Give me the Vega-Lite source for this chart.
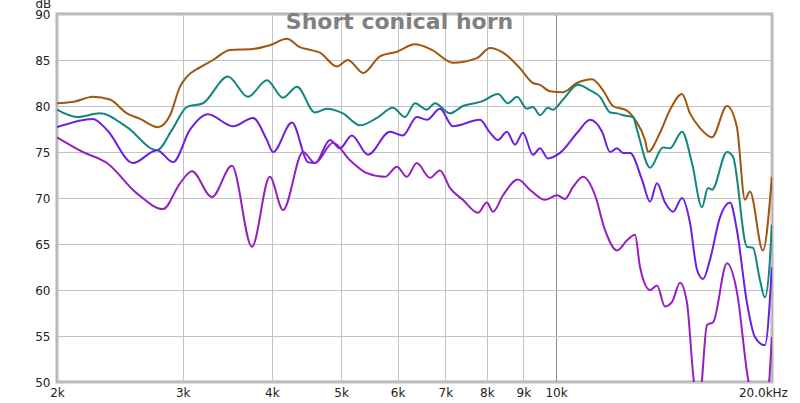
{
  "$schema": "https://vega.github.io/schema/vega-lite/v6.json",
  "autosize": "none",
  "width": 715,
  "height": 368,
  "padding": {"left": 57, "top": 14, "right": 28, "bottom": 21},
  "background": "white",
  "config": {
    "view": {"stroke": "#b4b4b4", "strokeWidth": 3},
    "font": "DejaVu Sans"
  },
  "title": {"text": "Short conical horn", "fontSize": 22, "font": "DejaVu Sans", "fontWeight": "bold", "color": "#808080", "anchor": "middle", "frame": "group", "offset": -37, "dx": -15},
  "data": {"values": [
    {"s":"brown","f":2000,"db":80.3},{"s":"brown","f":2120,"db":80.5},{"s":"brown","f":2246,"db":81.0},{"s":"brown","f":2372,"db":80.7},{"s":"brown","f":2506,"db":79.2},{"s":"brown","f":2614,"db":78.6},{"s":"brown","f":2770,"db":77.7},{"s":"brown","f":2880,"db":79.0},{"s":"brown","f":2974,"db":82.1},{"s":"brown","f":3042,"db":83.2},{"s":"brown","f":3172,"db":84.2},{"s":"brown","f":3308,"db":85.0},{"s":"brown","f":3494,"db":86.1},{"s":"brown","f":3763,"db":86.2},{"s":"brown","f":3973,"db":86.6},{"s":"brown","f":4198,"db":87.3},{"s":"brown","f":4376,"db":86.4},{"s":"brown","f":4523,"db":86.1},{"s":"brown","f":4670,"db":85.8},{"s":"brown","f":4932,"db":84.3},{"s":"brown","f":5111,"db":85.0},{"s":"brown","f":5368,"db":83.6},{"s":"brown","f":5667,"db":85.4},{"s":"brown","f":5987,"db":85.9},{"s":"brown","f":6346,"db":86.7},{"s":"brown","f":6700,"db":86.1},{"s":"brown","f":7170,"db":84.7},{"s":"brown","f":7746,"db":85.2},{"s":"brown","f":8082,"db":86.3},{"s":"brown","f":8429,"db":85.8},{"s":"brown","f":8903,"db":84.1},{"s":"brown","f":9283,"db":82.5},{"s":"brown","f":9496,"db":82.3},{"s":"brown","f":9807,"db":81.6},{"s":"brown","f":10229,"db":81.5},{"s":"brown","f":10702,"db":82.5},{"s":"brown","f":11232,"db":82.9},{"s":"brown","f":11638,"db":81.7},{"s":"brown","f":12020,"db":80.0},{"s":"brown","f":12575,"db":79.5},{"s":"brown","f":12903,"db":78.5},{"s":"brown","f":13325,"db":76.3},{"s":"brown","f":13455,"db":75.0},{"s":"brown","f":13985,"db":77.1},{"s":"brown","f":14445,"db":79.6},{"s":"brown","f":15015,"db":81.3},{"s":"brown","f":15406,"db":79.2},{"s":"brown","f":15911,"db":77.6},{"s":"brown","f":16538,"db":76.6},{"s":"brown","f":17357,"db":80.0},{"s":"brown","f":17923,"db":77.7},{"s":"brown","f":18394,"db":69.8},{"s":"brown","f":18692,"db":70.7},{"s":"brown","f":19490,"db":64.3},{"s":"brown","f":20064,"db":72.3},
    {"s":"teal","f":2000,"db":79.6},{"s":"teal","f":2134,"db":78.8},{"s":"teal","f":2298,"db":79.2},{"s":"teal","f":2506,"db":77.7},{"s":"teal","f":2761,"db":75.2},{"s":"teal","f":2898,"db":77.4},{"s":"teal","f":3042,"db":79.9},{"s":"teal","f":3202,"db":80.3},{"s":"teal","f":3471,"db":83.2},{"s":"teal","f":3704,"db":81.0},{"s":"teal","f":3936,"db":82.8},{"s":"teal","f":4146,"db":80.9},{"s":"teal","f":4337,"db":82.1},{"s":"teal","f":4596,"db":79.3},{"s":"teal","f":4776,"db":79.7},{"s":"teal","f":5030,"db":79.2},{"s":"teal","f":5316,"db":77.9},{"s":"teal","f":5612,"db":78.7},{"s":"teal","f":5910,"db":79.8},{"s":"teal","f":6142,"db":78.8},{"s":"teal","f":6346,"db":80.3},{"s":"teal","f":6594,"db":79.6},{"s":"teal","f":6767,"db":80.3},{"s":"teal","f":7102,"db":79.2},{"s":"teal","f":7405,"db":80.0},{"s":"teal","f":7875,"db":80.5},{"s":"teal","f":8294,"db":81.3},{"s":"teal","f":8563,"db":80.3},{"s":"teal","f":8817,"db":81.0},{"s":"teal","f":9105,"db":79.7},{"s":"teal","f":9283,"db":79.9},{"s":"teal","f":9496,"db":79.0},{"s":"teal","f":9745,"db":79.8},{"s":"teal","f":9904,"db":79.6},{"s":"teal","f":10229,"db":80.7},{"s":"teal","f":10737,"db":82.3},{"s":"teal","f":11160,"db":81.7},{"s":"teal","f":11526,"db":81.0},{"s":"teal","f":11905,"db":79.3},{"s":"teal","f":12176,"db":79.2},{"s":"teal","f":12414,"db":79.0},{"s":"teal","f":12821,"db":78.8},{"s":"teal","f":12986,"db":77.4},{"s":"teal","f":13542,"db":73.3},{"s":"teal","f":14122,"db":75.5},{"s":"teal","f":14445,"db":75.4},{"s":"teal","f":15015,"db":77.2},{"s":"teal","f":15505,"db":73.8},{"s":"teal","f":16013,"db":69.0},{"s":"teal","f":16326,"db":71.1},{"s":"teal","f":16538,"db":70.9},{"s":"teal","f":17357,"db":75.0},{"s":"teal","f":17695,"db":74.5},{"s":"teal","f":18512,"db":64.7},{"s":"teal","f":18872,"db":64.6},{"s":"teal","f":19303,"db":61.1},{"s":"teal","f":19616,"db":59.2},{"s":"teal","f":19936,"db":63.3},{"s":"teal","f":20064,"db":67.1},
    {"s":"violet","f":2000,"db":77.7},{"s":"violet","f":2246,"db":78.6},{"s":"violet","f":2350,"db":77.4},{"s":"violet","f":2556,"db":73.8},{"s":"violet","f":2761,"db":75.2},{"s":"violet","f":2908,"db":73.9},{"s":"violet","f":3070,"db":77.4},{"s":"violet","f":3254,"db":79.1},{"s":"violet","f":3528,"db":77.8},{"s":"violet","f":3763,"db":78.7},{"s":"violet","f":3936,"db":76.3},{"s":"violet","f":4014,"db":75.0},{"s":"violet","f":4268,"db":78.2},{"s":"violet","f":4494,"db":73.9},{"s":"violet","f":4596,"db":73.8},{"s":"violet","f":4825,"db":76.3},{"s":"violet","f":4981,"db":75.4},{"s":"violet","f":5176,"db":76.8},{"s":"violet","f":5452,"db":74.7},{"s":"violet","f":5853,"db":77.2},{"s":"violet","f":6101,"db":76.8},{"s":"violet","f":6383,"db":78.8},{"s":"violet","f":6594,"db":78.5},{"s":"violet","f":6878,"db":79.7},{"s":"violet","f":7170,"db":77.8},{"s":"violet","f":7825,"db":78.5},{"s":"violet","f":8082,"db":77.1},{"s":"violet","f":8294,"db":76.3},{"s":"violet","f":8535,"db":77.2},{"s":"violet","f":8760,"db":75.8},{"s":"violet","f":8988,"db":77.1},{"s":"violet","f":9283,"db":74.7},{"s":"violet","f":9496,"db":75.4},{"s":"violet","f":9745,"db":74.3},{"s":"violet","f":10130,"db":74.9},{"s":"violet","f":10737,"db":77.2},{"s":"violet","f":11160,"db":78.5},{"s":"violet","f":11600,"db":77.2},{"s":"violet","f":11905,"db":75.0},{"s":"violet","f":12176,"db":75.4},{"s":"violet","f":12414,"db":74.9},{"s":"violet","f":12698,"db":74.9},{"s":"violet","f":13196,"db":72.0},{"s":"violet","f":13542,"db":69.6},{"s":"violet","f":13851,"db":71.6},{"s":"violet","f":14214,"db":69.5},{"s":"violet","f":14586,"db":68.5},{"s":"violet","f":15015,"db":70.0},{"s":"violet","f":15406,"db":67.3},{"s":"violet","f":15758,"db":62.2},{"s":"violet","f":16065,"db":61.2},{"s":"violet","f":16432,"db":63.3},{"s":"violet","f":16970,"db":67.9},{"s":"violet","f":17525,"db":69.5},{"s":"violet","f":17923,"db":66.5},{"s":"violet","f":18512,"db":58.6},{"s":"violet","f":18994,"db":54.9},{"s":"violet","f":19616,"db":54.0},{"s":"violet","f":20064,"db":62.5},
    {"s":"magenta","f":2000,"db":76.6},{"s":"magenta","f":2174,"db":75.0},{"s":"magenta","f":2350,"db":73.8},{"s":"magenta","f":2588,"db":70.5},{"s":"magenta","f":2816,"db":68.8},{"s":"magenta","f":2974,"db":71.6},{"s":"magenta","f":3091,"db":72.9},{"s":"magenta","f":3296,"db":70.1},{"s":"magenta","f":3516,"db":73.5},{"s":"magenta","f":3750,"db":64.7},{"s":"magenta","f":3973,"db":72.3},{"s":"magenta","f":4146,"db":68.7},{"s":"magenta","f":4422,"db":75.0},{"s":"magenta","f":4596,"db":73.8},{"s":"magenta","f":4871,"db":76.0},{"s":"magenta","f":5146,"db":74.1},{"s":"magenta","f":5436,"db":72.7},{"s":"magenta","f":5760,"db":72.3},{"s":"magenta","f":5987,"db":73.4},{"s":"magenta","f":6181,"db":72.3},{"s":"magenta","f":6383,"db":73.8},{"s":"magenta","f":6660,"db":72.2},{"s":"magenta","f":6878,"db":73.0},{"s":"magenta","f":7102,"db":71.1},{"s":"magenta","f":7405,"db":69.8},{"s":"magenta","f":7774,"db":68.4},{"s":"magenta","f":8000,"db":69.5},{"s":"magenta","f":8160,"db":68.5},{"s":"magenta","f":8429,"db":70.3},{"s":"magenta","f":8846,"db":72.0},{"s":"magenta","f":9193,"db":70.9},{"s":"magenta","f":9651,"db":69.8},{"s":"magenta","f":10032,"db":70.3},{"s":"magenta","f":10294,"db":69.9},{"s":"magenta","f":10564,"db":71.2},{"s":"magenta","f":10911,"db":72.3},{"s":"magenta","f":11342,"db":70.3},{"s":"magenta","f":11714,"db":66.5},{"s":"magenta","f":12176,"db":64.3},{"s":"magenta","f":12575,"db":65.4},{"s":"magenta","f":12903,"db":66.0},{"s":"magenta","f":13112,"db":62.5},{"s":"magenta","f":13542,"db":60.0},{"s":"magenta","f":13851,"db":60.5},{"s":"magenta","f":14214,"db":58.2},{"s":"magenta","f":14539,"db":58.7},{"s":"magenta","f":14919,"db":60.8},{"s":"magenta","f":15258,"db":58.6},{"s":"magenta","f":15555,"db":51.0},{"s":"magenta","f":15855,"db":46.0},{"s":"magenta","f":16013,"db":50.2},{"s":"magenta","f":16274,"db":56.2},{"s":"magenta","f":16600,"db":56.5},{"s":"magenta","f":17357,"db":62.9},{"s":"magenta","f":17923,"db":59.8},{"s":"magenta","f":18572,"db":50.4},{"s":"magenta","f":18994,"db":47.0},{"s":"magenta","f":19616,"db":46.0},{"s":"magenta","f":20064,"db":54.9}
  ]},
  "mark": {"type": "line", "interpolate": "monotone", "strokeWidth": 2, "clip": true},
  "encoding": {
    "x": {
      "field": "f", "type": "quantitative",
      "scale": {"type": "log", "domain": [2000, 20070], "nice": false},
      "axis": {
        "title": null,
        "values": [2000, 3000, 4000, 5000, 6000, 7000, 8000, 9000, 10000, 20000],
        "labelExpr": "datum.value >= 19999 ? '20.0kHz' : format(datum.value / 1000, 'd') + 'k'",
        "labelFont": "DejaVu Sans", "labelFontSize": 12, "labelColor": "#222222",
        "labelPadding": 5, "ticks": false, "domain": false, "labelFlush": false, "labelOverlap": false,
        "labelOffset": {"condition": {"test": "datum.value >= 19999", "value": -8}, "value": 0},
        "gridColor": {"condition": {"test": "datum.value == 10000", "value": "#8c8c8c"}, "value": "#c4c4c4"},
        "gridWidth": 1
      }
    },
    "y": {
      "field": "db", "type": "quantitative",
      "scale": {"domain": [50, 90], "nice": false, "zero": false},
      "axis": {
        "values": [50, 55, 60, 65, 70, 75, 80, 85, 90],
        "title": "dB", "titleAngle": 0, "titleAlign": "left", "titleBaseline": "alphabetic",
        "titleX": -22, "titleY": -7, "titleFont": "DejaVu Sans", "titleFontSize": 12, "titleFontWeight": "normal", "titleColor": "#222222",
        "labelFont": "DejaVu Sans", "labelFontSize": 12, "labelColor": "#222222",
        "labelPadding": 7, "ticks": false, "domain": false,
        "gridColor": "#c4c4c4", "gridWidth": 1
      }
    },
    "color": {
      "field": "s", "type": "nominal",
      "scale": {"domain": ["brown", "teal", "violet", "magenta"], "range": ["#a0560f", "#13857f", "#6c1fe0", "#9420c0"]},
      "legend": null
    }
  }
}
